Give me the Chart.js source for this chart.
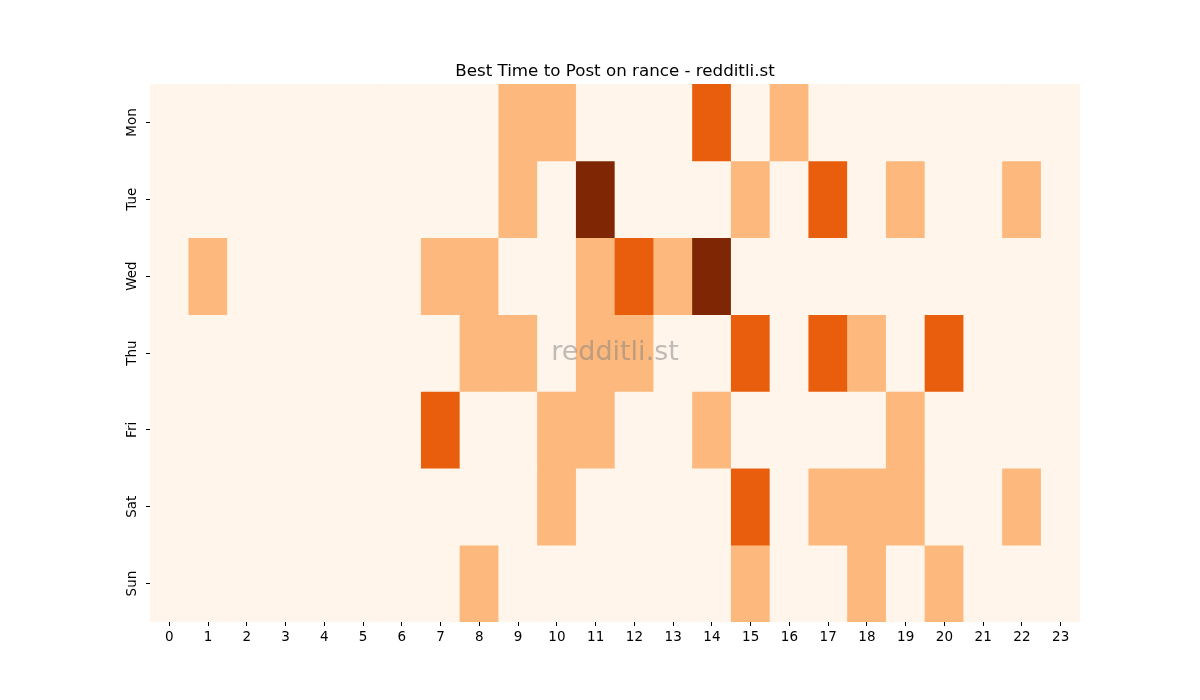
<!DOCTYPE html>
<html>
<head>
<meta charset="utf-8">
<script src="https://cdn.jsdelivr.net/npm/chart.js@4/dist/chart.umd.min.js"></script>
<style>
  html, body { margin: 0; padding: 0; background: #fff; }
  #wrap { width: 1200px; height: 700px; }
</style>
</head>
<body>
<div id="wrap"><canvas id="heat" width="1200" height="700"></canvas></div>
<script>
const hours = ['0','1','2','3','4','5','6','7','8','9','10','11','12','13','14','15','16','17','18','19','20','21','22','23'];
const days = ['Mon', 'Tue', 'Wed', 'Thu', 'Fri', 'Sat', 'Sun'];

// activity level per hour, one list per day (0..3)
const mon = [0,0,0,0,0,0,0,0,0,1,1,0,0,0,2,0,1,0,0,0,0,0,0,0];
const tue = [0,0,0,0,0,0,0,0,0,1,0,3,0,0,0,1,0,2,0,1,0,0,1,0];
const wed = [0,1,0,0,0,0,0,1,1,0,0,1,2,1,3,0,0,0,0,0,0,0,0,0];
const thu = [0,0,0,0,0,0,0,0,1,1,0,1,1,0,0,2,0,2,1,0,2,0,0,0];
const fri = [0,0,0,0,0,0,0,2,0,0,1,1,0,0,1,0,0,0,0,1,0,0,0,0];
const sat = [0,0,0,0,0,0,0,0,0,0,1,0,0,0,0,2,0,1,1,1,0,0,1,0];
const sun = [0,0,0,0,0,0,0,0,1,0,0,0,0,0,0,1,0,0,1,0,1,0,0,0];
const rows = [mon, tue, wed, thu, fri, sat, sun];

// Oranges colormap picks for 0..3
const levelColors = ['#fff5eb', '#fdb97d', '#e95e0d', '#7f2704'];

const datasets = rows.map((vals, r) => ({
    label: days[r],
    data: vals.map(() => [r, r + 1]),
    backgroundColor: vals.map(v => levelColors[v]),
    borderWidth: 0,
    barPercentage: 1.0,
    categoryPercentage: 1.0,
    grouped: false
}));

const extras = {
    id: 'extras',
    afterDraw(chart) {
        const ctx = chart.ctx;
        const a = chart.chartArea;
        ctx.save();
        ctx.fillStyle = '#000';
        ctx.font = '16.7px "DejaVu Sans"';
        ctx.textAlign = 'center';
        ctx.textBaseline = 'bottom';
        ctx.fillText('Best Time to Post on rance - redditli.st', (a.left + a.right) / 2, a.top - 4);
        ctx.fillStyle = 'rgba(128,128,128,0.5)';
        ctx.font = '27px "DejaVu Sans"';
        ctx.textBaseline = 'middle';
        ctx.fillText('redditli.st', (a.left + a.right) / 2, (a.top + a.bottom) / 2);
        ctx.restore();
    }
};

const tickFont = { family: 'DejaVu Sans', size: 13.5 };

new Chart(document.getElementById('heat'), {
    type: 'bar',
    data: { labels: hours, datasets: datasets },
    options: {
        responsive: false,
        animation: false,
        layout: { padding: { left: 110, right: 120, top: 84, bottom: 48 } },
        plugins: {
            legend: { display: false },
            tooltip: { enabled: false }
        },
        scales: {
            x: {
                offset: true,
                grid: { offset: false, drawOnChartArea: false, drawTicks: true, tickLength: 4, color: '#000' },
                border: { display: false },
                ticks: { color: '#000', font: tickFont, padding: 3, maxRotation: 0, autoSkip: false },
                afterFit(s) { s.height = 30; }
            },
            y: {
                type: 'linear',
                min: 0,
                max: 7,
                reverse: true,
                grid: { drawOnChartArea: false, drawTicks: true, tickLength: 4, color: '#000' },
                border: { display: false },
                afterBuildTicks(s) { s.ticks = days.map((d, i) => ({ value: i + 0.5 })); },
                ticks: {
                    color: '#000',
                    font: tickFont,
                    padding: -1,
                    minRotation: 90,
                    maxRotation: 90,
                    crossAlign: 'center',
                    callback: (v) => days[Math.floor(v)]
                },
                afterFit(s) { s.width = 40; }
            }
        }
    },
    plugins: [extras]
});
</script>
</body>
</html>
